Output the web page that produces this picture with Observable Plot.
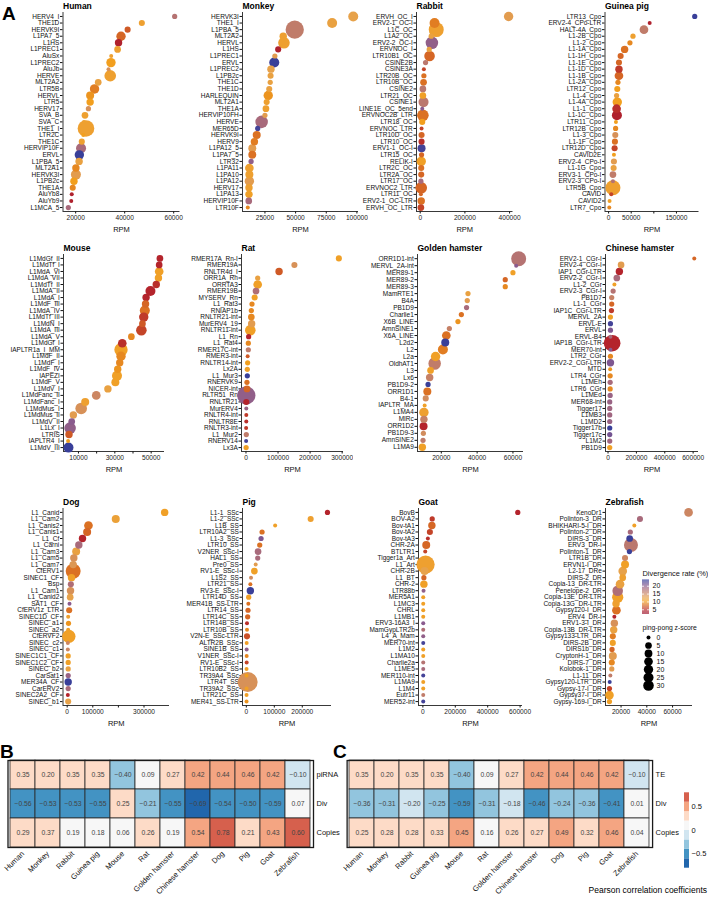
<!DOCTYPE html>
<html><head><meta charset="utf-8">
<script src="https://cdn.jsdelivr.net/npm/d3@7"></script>
<script src="https://cdn.jsdelivr.net/npm/@observablehq/plot@0.6"></script>
<style>
body{margin:0;background:#fff;}
#root{position:relative;width:708px;height:902px;overflow:hidden;font-family:"Liberation Sans",Arial,sans-serif;background:#fff;}
#root svg{position:absolute;}
.tag{position:absolute;font-weight:bold;font-size:19px;line-height:1;}
.note{position:absolute;font-size:8.5px;white-space:nowrap;}
</style></head><body><div id="root"></div>
<script>
// ---------- DATA: [TE name, RPM, divergence rate (%), ping-pong z-score] ----------
const human = [
["HERV4_I",60400,17,1],["THE1D",47000,11,3],["HERVK9I",41200,7,3],["L1PA7_5",38500,7.5,20],
["L1HS",37500,4,8],["L1PREC1",37100,11,5],["AluSx",34500,11,0],["L1PREC2",34400,10,20],
["AluJb",33400,14,0],["HERVE",34100,11,40],["MLT2A2",29200,12,5],["LTR5B",27700,8.5,20],
["HERVL",25900,9.5,11],["LTR5",25900,10,8],["HERV17",25200,14,1],["SVA_B",23800,11,5],
["SVA_C",23400,11,0],["THE1_I",24200,11,110],["LTR2C",23100,10,0],["THE1C",22500,11,3],
["HERVIP10F",22200,18,25],["ERVL",21500,23.5,20],["L1PBA_5",21400,12,8],["MLT2A1",20100,9,8],
["HERVK3I",20100,13,25],["L1PB2c",19300,10,8],["THE1A",18800,9,3],["AluYb8",18400,4,0],
["AluYb9",18200,4,0],["L1MCA_5",17000,18,1]];
const monkey = [
["HERVK3I",97000,12.5,25],["THE1_I",79800,12,25],["L1PBA_5",49300,16,140],["MLT2A2",39900,11,8],
["HERVL",40500,11,40],["L1HS",35800,4,3],["L1PREC1",33100,13,1],["ERVL",32600,23.5,25],
["L1PREC2",29900,12.5,8],["L1PB2c",29600,12,3],["THE1C",29300,12,1],["THE1D",28500,12,3],
["HARLEQUIN",27700,9.5,20],["MLT2A1",26400,11,3],["THE1A",25800,11,5],["HERVIP10FH",25000,13,1],
["HERVE",22300,18,50],["MER65D",19100,23,1],["HERVK9I",18300,8,11],["HERV9",16400,8.5,8],
["L1PA12_5",14700,13,11],["L1PA7_5",14700,8,11],["LTR32",13700,19.5,1],["L1PA11",12300,11,15],
["L1PA10",12300,11,11],["L1PA12",12300,13,20],["HERV17",12000,11,8],["L1PA13",12000,10.5,8],
["HERVIP10F",11800,18,5],["LTR10F",11000,9,0]];
const rabbit = [
["ERVH_OC_I",395700,13,20],["ERV2-1_OC-I",64200,8.5,25],["L1C_OC",71700,11,83],["L1A2_OC",49300,12,1],
["ERV2-2_OC-I",52300,19.5,50],["ERVNOC_I",40300,12,1],["LTR10B1_OC",41800,7.5,30],["CSINE2B",23900,16.5,1],
["CSINE3A",16400,6,0],["LTR20B_OC",16400,8,1],["LTR10B_OC",14900,8,5],["CSINE2",11900,16.5,5],
["LTR21_OC",11900,10.5,5],["CSINE1",14900,16.5,25],["LINE1E_OC_5end",9000,20,0],["ERVNOC2B_LTR",11900,8,40],
["LTR18_OC",9000,10,3],["ERVNOC_LTR",6000,6,0],["LTR10D_OC",6000,7.5,3],["LTR10_OC",6000,5,3],
["ERV1-1_OC-I",6000,23,11],["LTR15_OC",6000,7.5,1],["RELIK-I",4500,10.5,20],["LTR2C_OC",4500,8,3],
["LTR2A_OC",4500,7.5,3],["LTR17_OC",3000,18,1],["ERVNOC2_LTR",4500,7.5,40],["LTR11_OC",3000,7.5,0],
["ERV2-1_OC-LTR",4500,8,8],["ERVH_OC_LTR",3000,6,5]];
const guineaPig = [
["LTR13_Cpo",190400,23.5,1],["ERV2-4_CPo-LTR",90800,4,0],["HALT-4A_Cpo",78200,16,15],["L1-2B_Cpo",53900,11,1],
["L1-2_Cpo",47200,9,1],["L1-1A_Cpo",35400,8,8],["L1-1H_Cpo",26600,7.5,3],["L1-1E_Cpo",22900,7.5,3],
["L1-1D_Cpo",22900,5.5,8],["L1-1B_Cpo",22900,7.5,15],["L1-2A_Cpo",20700,9,1],["LTR12_Cpo",19200,10,3],
["L1-4_Cpo",17700,12,1],["L1-4A_Cpo",19200,10,20],["L1-1_Cpo",17700,5,15],["L1-1C_Cpo",18400,4,25],
["LTR11_Cpo",16200,10,0],["LTR12B_Cpo",15500,9,1],["L1-3_Cpo",14800,14,3],["L1-1F_Cpo",14000,8,3],
["LTR12D_Cpo",13300,6,3],["CAVID2E",11800,10,0],["ERV2-4_CPo-I",11800,13,3],["L1-1G_Cpo",11100,12,3],
["ERV3-1_CPo-I",9600,16,5],["ERV2-3_CPo-I",9600,17,0],["LTR5B_Cpo",9600,11,83],["CAVID",5900,6,0],
["CAVID2",2200,10.5,0],["LTR7_Cpo",1500,9,0]];
const mouse = [
["L1MdGf_II",54800,4.5,5],["L1MdTf_I",54400,4.5,5],["L1MdA_VI",54400,10.5,15],["L1MdA_VII",54000,10.5,8],
["L1MdTf_II",52800,5,8],["L1MdA_II",49600,4.5,25],["L1MdA_I",47200,4.5,8],["L1MdF_III",46900,7.5,8],
["L1MdA_IV",46500,8,25],["L1MdTf_III",45900,5.5,20],["L1MdN_I",45200,7,5],["L1MdA_III",44600,6,30],
["L1MdA_V",39100,9,5],["L1MdGf_I",34100,5,15],["IAPLTR1a_I_MM",33400,10.5,60],["L1MdF_II",33400,9,20],
["L1MdF_I",32700,9,8],["L1MdF_IV",31600,9.5,8],["IAPEZI",31200,10.5,25],["L1MdF_V",30300,10.5,11],
["L1MdV_I",26200,12,8],["L1MdFanc_II",19800,15,15],["L1MdFanc_I",13700,11,11],["L1MdMus_I",11500,14,40],
["L1MdMus_II",7200,13,8],["L1MdV_II",6300,20,5],["L1Lx_I",5400,19.5,40],["LTRIS",4800,7,8],
["IAPLTR4_I",4300,10,0],["L1MdV_III",4500,23.5,25]];
const rat = [
["RMER17A_Rn-I",289700,10.5,3],["RMER19A",151100,14,3],["RNLTR4d_I",103200,7,8],["ORR1A_Rn",36500,12,1],
["ORRTA3",36500,10.5,15],["RMER19B",31300,17.5,5],["MYSERV_Rn",27100,10.5,3],["L1_Rat3",18800,9,1],
["RNIAP1b",16700,9,1],["RNLTR21-int",16700,9,5],["MurERV4_19",17700,13,8],["RNLTR11-int",13500,10.5,30],
["L1_Rn",8300,4.5,1],["L1_Rat4",7300,9,1],["RMER17C-int",7300,16,1],["RMER3-int",5200,7,0],
["RNLTR14-int",5200,10,1],["Lx2A",4200,10.5,1],["L1_Mur3",4200,23.5,1],["RNERVK9",3100,8,1],
["NICER-int",3100,7.5,5],["RLTR51_Rn",1000,19.5,140],["RNLTR21",1000,4.5,3],["MurERV4",1000,19,0],
["RNLTR4-int",1000,5.5,0],["RNLTR8E",1000,5,0],["RNLTR3-int",500,5.5,0],["L1_Mur2",1000,16,1],
["RNERV14",500,23,0],["Lx3A",500,10.5,1]];
const goldenHamster = [
["ORR1D1-int",63200,17,83],["MERVL_2A-int",61800,20,0],["MER89-1",60000,10.5,1],["MER89-2",55700,7.5,1],
["MER89-3",55700,9,1],["MamRTE1",34900,12,1],["B4A",34500,13,1],["PB1D9",34100,18,1],
["Charlie1",31200,8,1],["X6B_LINE",29300,9.5,1],["AmnSINE1",24500,15.5,1],["X6A_LINE",22800,8,15],
["L2d2",22200,23.5,11],["L2",20900,8.5,25],["L2a",16800,10.5,20],["OldhAT1",16300,16,50],
["L3",14000,10.5,5],["Lx6",13500,15.5,8],["PB1D9-2",12600,23.5,1],["ORR1D1",12200,8,11],
["B4-1",11300,14.5,3],["IAPLTR_MA",10700,10.5,0],["L1MA4",10300,11,20],["MIRc",10300,15.5,8],
["ORR1D2",10100,4.5,11],["PB1D9-3",10000,14.5,1],["AmnSINE2",9800,16,1],["L1MA9",9400,10.5,8]];
const chineseHamster = [
["ERV2-1_CGr-I",608000,7.5,0],["ERV2-4_CGr-I",92000,13,5],["IAP1_CGr-LTR",80000,4.5,8],["ERV2-2_CGr-I",62000,18,5],
["L1-2_CGr",45000,10.5,0],["ERV2-3_CGr-I",36000,17,1],["PB1D7",26000,15.5,1],["L1-1_CGr",26000,7.5,1],
["IAP1C_CGr-LTR",24000,5.5,1],["MERVL_2A",17000,10.5,1],["ERVL-E",17000,23,1],["ERVL",17000,20.5,1],
["ERVL-B4",17000,18,0],["IAP1B_CGr-LTR",29000,4.5,110],["MER70-int",17000,20,0],["LTR2_CGr",17000,9,1],
["ERV2-2_CGr-LTR",17000,20.5,8],["MTD",15000,9.5,0],["LTR4_CGr",15000,9,1],["L1MEh",15000,18,1],
["LTR6_CGr",15000,9,1],["L1MEd",15000,19,1],["MER68-int",12000,19,1],["Tigger17",12000,18.5,1],
["L1MB3",12000,18.5,1],["L1MD2",12000,19,1],["Tigger17b",12000,23.5,1],["Tigger17c",12000,21,1],
["L1M2",12000,18.5,1],["PB1D9",12000,10.5,1]];
const dog = [
["L1_Canid",380600,10.5,8],["L1_Cam2",189700,11.5,11],["L1_Canis2",83100,8,15],["L1_Canis1",77900,7.5,11],
["L1_Cf",59800,4.5,8],["L1_Carni",45500,18,8],["L1_Cam3",35100,12,11],["L1_Cam5",26000,14,8],
["L1_Cam7",23400,13.5,8],["CfERV1",23400,8,83],["SINEC1_CF",16900,10.5,8],["Bsp",14300,17.5,3],
["L1_Cam1",13000,14,8],["L1_Canid2",11700,12.5,5],["SAT1_CF",9100,20,0],["CfERV1z_LTR",7800,8,3],
["SINEC1D_CF",3900,11,0],["SINEC_a1",5200,9.5,1],["SINEC_a2",3900,10.5,0],["CfERVF2",6500,10.5,60],
["SINEC_c2",2600,15,0],["SINEC_c1",2600,15,0],["SINEC1C1_CF",3900,10.5,1],["SINEC1C2_CF",3900,10.5,1],
["SINEC_b2",3900,12,1],["CarSat1",3900,19,1],["MER34A_CF",3900,23.5,8],["CarERV2",3900,18,1],
["SINEC2A2_CF",2600,4.5,0],["SINEC_b1",3900,12.5,3]];
const pig = [
["L1-1_SSc",290000,4.5,1],["L1-2_SSc",230000,11,3],["L1B_SS",103000,10.5,0],["LTR10A2_SS",56300,8,1],
["L1-3_SSc",52700,20.5,1],["LTR10_SS",47900,8,1],["V2NER_SSc-I",41900,18,5],["HAL1_SS",40700,18,1],
["Pre0_SS",33500,13,0],["RV1-E_SSc-I",28800,10.5,5],["L1S2_SS",16800,14.5,0],["LTR21_SS",14400,8,0],
["RV3-E_SSc-I",14400,23.5,8],["LTR14D_SS",8400,10.5,1],["MER41B_SS-LTR",7200,8,0],["LTR14_SS",6000,7.5,1],
["LTR14C_SS",4800,7.5,1],["LTR14B_SS",2400,5,0],["LTR10B_SS",2400,9,0],["V2N-E_SSc-LTR",2400,6.5,3],
["ALTR2B_SSc",1200,10.5,0],["SINE1B_SS",1200,19.5,0],["V1NER_SSc-I",1200,9,0],["RV1-E_SSc-I",1200,6,0],
["LTR10B2_SS",800,10.5,0],["TR39A4_SSc",800,10,0],["LTR4T_SS",4800,14,176],["TR39A2_SSc",800,10.5,0],
["LTR21C_SS",800,10.5,0],["MER41_SS-LTR",800,9.5,0]];
const goat = [
["BovB",585700,4.5,1],["BOV-A2",57500,5.5,1],["Bov-tA1",55500,7.5,8],["Bov-tA2",43200,6,3],
["Bov-tA3",30800,5,0],["CHR-2A",20600,7.5,11],["BTLTR1",14400,6,0],["Tigger1a_Art",10300,11,0],
["L1_Art",16400,11,140],["CHR-2B",10300,12.5,11],["L1_BT",6200,7.5,1],["CHR-2",6200,10.5,8],
["LTR88b",4100,19.5,0],["MER5A1",2100,10.5,0],["L1MC3",2100,10.5,0],["CHRL",2100,10.5,0],
["L1MB1",2100,10.5,0],["ERV3-16A3_I",2100,20,0],["MamGypLTR2b",2100,17.5,0],["L4_A_Mam",2100,19.5,0],
["MER70-int",2100,23,0],["L1M2",2100,10.5,0],["L1MA10",2100,10.5,0],["Charlie2a",2100,17,0],
["L1ME5",2100,18,0],["MER110-int",2100,23,0],["L1MA9",2100,10.5,0],["L1M4",2100,10.5,0],
["Eutr11",2100,16,0],["MER52-int",2100,23,0]];
const zebrafish = [
["KenoDr1",72400,15,15],["Polinton-3_DR",34700,18,3],["BHIKHARI-5-I_DR",30300,10.5,0],["Polinton-2_DR",27200,18,1],
["DIRS-3_DR",26700,23.5,5],["ERV3_DR-I",27700,16.5,69],["Polinton-1_DR",26500,23.5,1],["LTR1B_DR",23100,15,3],
["ERVN1-I_DR",23100,10.5,11],["L2-17_DRe",21300,12.5,15],["DIRS-2_DR",21300,11,5],["Copia-13_DR-LTR",19200,12,15],
["Penelope-2_DR",17400,17.5,30],["Copia-13E_DR-LTR",17400,10.5,36],["Copia-13G_DR-LTR",16100,11,8],["Gypsy120-I_DR",16400,8,15],
["ERV4_DR-I",14800,4.5,0],["ERV1-3-I_DR",14800,14,8],["Copia-13B_DR-LTR",14300,12,8],["Gypsy133-LTR_DR",13600,8.5,3],
["DIRS-2B_DR",13600,10.5,3],["DIRS1b_DR",13000,7.5,1],["CryptonH-1_DR",13600,13,11],["DIRS-7_DR",12800,9,3],
["Kolobok-1_DR",12800,13,1],["L1-11_DR",11700,16,0],["Gypsy120-LTR_DR",11200,23.5,0],["Gypsy-17-I_DR",11000,6,1],
["Gypsy37-I_DR",11000,10.5,15],["Gypsy-169-I_DR",11000,10.5,1]];

// x tick values (all ticks) and which carry a label
const ticksHuman=[20000,40000,60000], ticksMonkey=[25000,50000,75000,100000], ticksRabbit=[0,200000,400000],
      ticksGuinea=[0,50000,100000,150000], labGuinea=[0,50000,150000],
      ticksMouse=[10000,20000,30000,40000,50000], labMouse=[10000,30000,50000],
      ticksRat=[0,100000,200000,300000], ticksGolden=[20000,40000,60000], ticksChinese=[0,200000,400000,600000],
      ticksDog=[0,100000,200000,300000], labDog=[0,100000,300000], ticksPig=[0,100000,200000],
      ticksGoat=[0,200000,400000,600000], ticksZebra=[20000,40000,60000];

// legend values
const divTicks=[5,10,15,20];
const zLegend=[0,5,10,15,20,25,30];

// heatmaps
const species=["Human","Monkey","Rabbit","Guinea pig","Mouse","Rat","Golden hamster","Chinese hamster","Dog","Pig","Goat","Zebrafish"];
const rowsB=["piRNA","Div","Copies"];
const piRNA_B=[0.35,0.20,0.35,0.35,-0.40,0.09,0.27,0.42,0.44,0.46,0.42,-0.10];
const div_B=[-0.56,-0.53,-0.53,-0.55,0.25,-0.21,-0.55,-0.69,-0.54,-0.50,-0.59,0.07];
const copies_B=[0.29,0.37,0.19,0.18,0.06,0.26,0.19,0.54,0.78,0.21,0.43,0.60];
const rowsC=["TE","Div","Copies"];
const te_C=[0.35,0.20,0.35,0.35,-0.40,0.09,0.27,0.42,0.44,0.46,0.42,-0.10];
const div_C=[-0.36,-0.31,-0.20,-0.25,-0.59,-0.31,-0.18,-0.46,-0.24,-0.36,-0.41,0.01];
const copies_C=[0.25,0.28,0.28,0.33,0.45,0.16,0.26,0.27,0.49,0.32,0.46,0.04];
const corrBreaks=[-0.6,-0.4,-0.2,0,0.2,0.4,0.6];
const corrColors=["#2166AC","#4393C3","#92C5DE","#D1E5F0","#F7F7F7","#FDDBC7","#F4A582","#D6604D"];
const corrTicks=[-0.5,0,0.5];

// ---------- drawing ----------
const root=document.getElementById("root");
const FONT='"Liberation Sans", Arial, sans-serif';
const divStops=[2,4.5,7,10,12.5,15,17.5,20,24];
const divCols=["#9A1530","#B4242C","#CF5A26","#F29F1E","#E7A24A","#CC8662","#AF6E76","#8A5B8E","#2D3B9B"];
const divPiece=d3.scaleLinear().domain(divStops).range(divCols).interpolate(d3.interpolateRgb);
const divInterp=(t)=>divPiece(2+t*22);
const colorOpt={type:"linear",domain:[2,24],interpolate:divInterp};
const rOpt={type:"sqrt",domain:[0,30],range:[2,5.3],clamp:false};

function place(svg,left,top){svg.style.left=left+"px";svg.style.top=top+"px";root.appendChild(svg);}

function panel(title,rows,ticks,shown,[sl,ax,rx,pt,pb]){
  const data=rows.map((r,i)=>({i,name:r[0],rpm:r[1],div:r[2],z:r[3]}));
  const n=data.length;
  const ext=d3.extent(data,d=>d.rpm), pad=(ext[1]-ext[0])*0.05;
  const xd=[ext[0]-pad,ext[1]+pad];
  const st=pt-14, mb=30, mr=10;
  const lab=shown||ticks;
  const svg=Plot.plot({
    width:rx-sl+mr, height:pb-st+mb, marginLeft:ax-sl, marginRight:mr, marginTop:pt-st, marginBottom:mb,
    style:{fontFamily:FONT,fontSize:"6.5px",color:"#111",background:"none"},
    x:{domain:xd}, y:{domain:[n-0.4,-0.6]}, r:rOpt, color:colorOpt,
    marks:[
      Plot.axisY({ticks:d3.range(n),tickFormat:i=>data[i].name,tickSize:2.5,tickPadding:1.2,fontSize:6.5,label:null,fill:"#111"}),
      Plot.axisX({ticks,tickFormat:v=>lab.includes(v)?String(v):"",tickSize:2.5,tickPadding:1.5,fontSize:6.6,label:null,fill:"#222"}),
      Plot.ruleX([xd[0]],{stroke:"#222",strokeWidth:0.9}),
      Plot.ruleY([n-0.4],{stroke:"#222",strokeWidth:0.9}),
      Plot.dot(data,{x:"rpm",y:"i",r:"z",fill:"div"}),
      Plot.text([title],{text:d=>d,frameAnchor:"top-left",dy:-4,lineAnchor:"bottom",textAnchor:"start",fontWeight:"bold",fontSize:8.5,fill:"#000"}),
      Plot.text(["RPM"],{text:d=>d,frameAnchor:"bottom",dy:20,fontSize:7.5,fill:"#111"})
    ]});
  place(svg,sl,st);
}

panel("Human",human,ticksHuman,null,[0,62.5,179.5,12,211]);
panel("Monkey",monkey,ticksMonkey,null,[178,242,358,12,211]);
panel("Rabbit",rabbit,ticksRabbit,null,[354,416,512.5,12,211]);
panel("Guinea pig",guineaPig,ticksGuinea,labGuinea,[530,604.5,698.5,12,211]);
panel("Mouse",mouse,ticksMouse,labMouse,[0,63,164,254,451]);
panel("Rat",rat,ticksRat,null,[178,241,343,254,451]);
panel("Golden hamster",goldenHamster,ticksGolden,null,[354,417,523,254,451]);
panel("Chinese hamster",chineseHamster,ticksChinese,null,[530,605,698,254,451]);
panel("Dog",dog,ticksDog,labDog,[0,62.5,169,508,705]);
panel("Pig",pig,ticksPig,null,[178,242,331,508,705]);
panel("Goat",goat,ticksGoat,null,[354,418,522,508,705]);
panel("Zebrafish",zebrafish,ticksZebra,null,[530,605,692,508,705]);

// divergence colour bar
{
  const steps=d3.range(2,24,0.1);
  const svg=Plot.plot({
    width:80,height:55,marginLeft:12,marginRight:61,marginTop:14.3,marginBottom:6,
    style:{fontFamily:FONT,fontSize:"7px",color:"#111",background:"none"},
    y:{domain:[2,24.1]}, color:colorOpt,
    marks:[
      Plot.rect(steps,{y1:d=>d,y2:d=>d+0.1,fill:d=>d+0.05}),
      Plot.tickY(divTicks,{y:d=>d,stroke:"white",strokeWidth:0.8,insetRight:5}),
      Plot.tickY(divTicks,{y:d=>d,stroke:"white",strokeWidth:0.8,insetLeft:5}),
      Plot.axisY({anchor:"right",ticks:divTicks,tickSize:0,tickPadding:3,fontSize:7,label:null}),
      Plot.text(["Divergence rate (%)"],{text:d=>d,frameAnchor:"top-left",dy:-4,lineAnchor:"bottom",textAnchor:"start",fontSize:7.4})
    ]});
  place(svg,630,565);
}
// z-score size legend
{
  const svg=Plot.plot({
    width:78,height:75,marginLeft:14,marginRight:56,marginTop:15.5,marginBottom:8,
    style:{fontFamily:FONT,fontSize:"7px",color:"#111",background:"none"},
    y:{type:"point",domain:zLegend,padding:0}, r:rOpt,
    marks:[
      Plot.dot(zLegend,{y:d=>d,r:d=>d,fill:"#000"}),
      Plot.axisY({anchor:"right",tickSize:0,tickPadding:4,fontSize:7,label:null}),
      Plot.text(["ping-pong z-score"],{text:d=>d,frameAnchor:"top-left",dx:-2,dy:-6,lineAnchor:"bottom",textAnchor:"start",fontSize:6.8})
    ]});
  place(svg,630,620);
}

// heatmaps
const fmt=d3.format(".2f");
function heat(rowNames,arrays,left,mL,mR){
  const cells=[];
  rowNames.forEach((r,j)=>arrays[j].forEach((v,i)=>cells.push({sp:species[i],row:r,v})));
  const svg=Plot.plot({
    width:mL+305.5+mR,height:147,marginLeft:mL,marginRight:mR,marginTop:5,marginBottom:55,
    style:{fontFamily:FONT,fontSize:"7.5px",color:"#111",background:"none"},
    x:{domain:species,padding:0}, y:{domain:rowNames,padding:0},
    color:{type:"threshold",domain:corrBreaks,range:corrColors},
    marks:[
      Plot.cell(cells,{x:"sp",y:"row",fill:"v",stroke:"#2a2a2a",strokeWidth:0.8}),
      Plot.frame({stroke:"#1a1a1a",strokeWidth:1.3}),
      Plot.text(cells,{x:"sp",y:"row",text:d=>fmt(d.v),fontSize:6.8,fill:"#444"}),
      Plot.axisY({anchor:"right",tickSize:0,tickPadding:3,fontSize:7.5,label:null}),
      Plot.axisX({anchor:"bottom",tickRotate:-45,tickSize:0,tickPadding:5,fontSize:7.6,label:null})
    ]});
  place(svg,left,755);
}
heat(rowsB,[piRNA_B,div_B,copies_B],0,7.5,32);
heat(rowsC,[te_C,div_C,copies_C],340,6.6,56);

// correlation legend
{
  const bins=d3.range(-0.8,0.79,0.2);
  const svg=Plot.plot({
    width:33,height:90,marginLeft:9,marginRight:19,marginTop:7.3,marginBottom:7.3,
    style:{fontFamily:FONT,fontSize:"7.5px",color:"#111",background:"none"},
    y:{domain:[-0.8,0.8]},
    color:{type:"threshold",domain:corrBreaks,range:corrColors},
    marks:[
      Plot.rect(bins,{y1:d=>d,y2:d=>d+0.2,fill:d=>d+0.1}),
      Plot.axisY({anchor:"right",ticks:corrTicks,tickSize:0,tickPadding:2,fontSize:7.5,label:null,tickFormat:d=>d===0?"0":d3.format(".1f")(d)})
    ]});
  place(svg,675,785);
}

// text tags
function tag(t,x,y,cls){const d=document.createElement("div");d.className=cls;d.textContent=t;d.style.left=x+"px";d.style.top=y+"px";root.appendChild(d);return d;}
tag("A",2,4,"tag");
tag("B",0,742,"tag");
tag("C",333,742,"tag");
const pc=tag("Pearson correlation coefficients",0,885,"note");
pc.style.left="auto";pc.style.right="1px";
</script></body></html>
